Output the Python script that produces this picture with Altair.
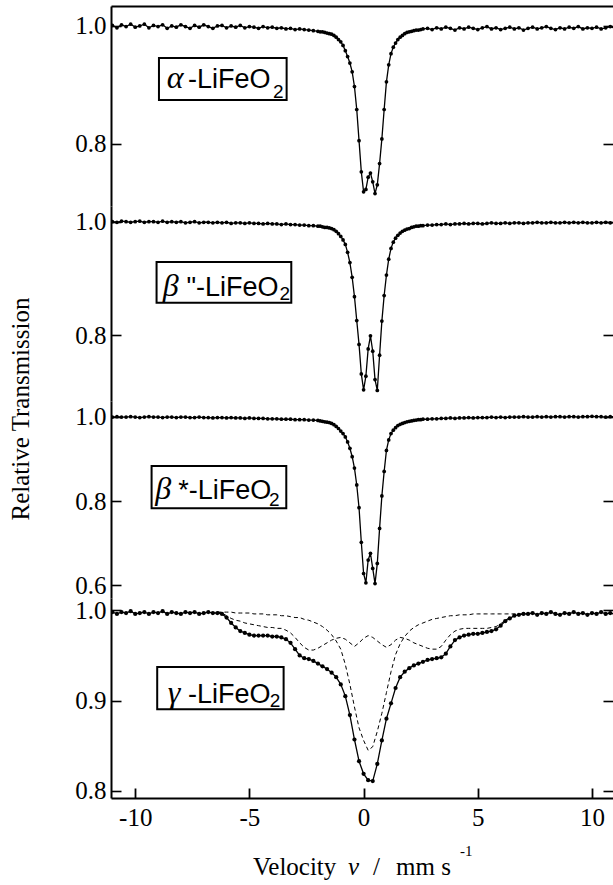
import altair as alt
import numpy as np
import pandas as pd

# ---- velocity channels (mm/s) ----
V_LEFT = np.round(np.arange(-11.0, -2.1, 0.2), 1)     # -11.0 ... -2.2
V_CORE = np.round(np.arange(-2.0, 2.65, 0.1), 1)      # -2.0 ... 2.6
V_RIGHT = np.round(np.arange(2.8, 11.05, 0.2), 1)     # 2.8 ... 11.0
V_GAMMA = np.round(np.arange(-11.0, 11.05, 0.2), 1)   # -11.0 ... 11.0
V_SUB = np.round(np.arange(-6.4, 7.45, 0.2), 1)       # -6.4 ... 7.4

# ---- alpha-LiFeO2 ----
ALPHA_LEFT = [1.001, 0.997, 1.002, 0.999, 1.003, 0.998, 1.000, 1.003, 0.997, 1.001,
              0.999, 1.002, 0.996, 1.000, 0.998, 1.002, 0.999, 0.996, 1.001, 0.998,
              1.002, 0.999, 0.996, 1.000, 1.001, 0.997, 1.000, 0.998, 1.001, 0.997,
              0.999, 0.998, 0.996, 0.999, 0.997, 0.998, 0.996, 0.997, 0.995, 0.996,
              0.994, 0.995, 0.994, 0.993, 0.992]
ALPHA_CORE = [0.991, 0.990, 0.990, 0.989, 0.988, 0.987, 0.986, 0.984, 0.981, 0.977,
              0.973, 0.967, 0.958, 0.948, 0.937, 0.922, 0.897, 0.858, 0.805, 0.752,
              0.718, 0.722, 0.743, 0.750, 0.735, 0.715, 0.730, 0.766, 0.808, 0.858,
              0.905, 0.934, 0.953, 0.964, 0.971, 0.977, 0.981, 0.984, 0.987, 0.989,
              0.990, 0.991, 0.992, 0.993, 0.993, 0.994, 0.995]
ALPHA_RIGHT = [0.996, 0.994, 0.997, 0.995, 0.998, 0.996, 0.993, 0.997, 0.995, 0.998,
               0.996, 0.994, 0.997, 0.999, 0.995, 0.997, 0.994, 0.996, 0.998, 0.995,
               0.997, 0.993, 0.996, 0.998, 0.995, 0.997, 0.999, 0.996, 0.994, 0.997,
               0.995, 0.998, 0.996, 0.999, 0.995, 0.997, 0.996, 0.998, 0.995, 0.997,
               0.999, 0.996]

# ---- beta"-LiFeO2 ----
BETA2_LEFT = [1.000, 0.999, 1.001, 1.000, 0.999, 1.000, 1.001, 0.999, 1.000, 1.000,
              0.999, 1.001, 0.999, 1.000, 0.999, 1.000, 0.998, 0.999, 1.000, 0.998,
              0.999, 0.999, 0.998, 0.999, 0.998, 0.999, 0.997, 0.998, 0.998, 0.997,
              0.998, 0.997, 0.997, 0.996, 0.997, 0.996, 0.996, 0.995, 0.996, 0.995,
              0.995, 0.994, 0.994, 0.993, 0.993]
BETA2_CORE = [0.992, 0.992, 0.991, 0.990, 0.990, 0.989, 0.988, 0.986, 0.983, 0.979,
              0.974, 0.968, 0.960, 0.946, 0.928, 0.902, 0.868, 0.826, 0.784, 0.732,
              0.704, 0.728, 0.776, 0.799, 0.772, 0.722, 0.703, 0.765, 0.825, 0.870,
              0.906, 0.934, 0.953, 0.964, 0.971, 0.976, 0.980, 0.983, 0.985, 0.987,
              0.988, 0.990, 0.991, 0.992, 0.992, 0.993, 0.993]
BETA2_RIGHT = [0.994, 0.994, 0.995, 0.995, 0.996, 0.995, 0.996, 0.996, 0.997, 0.996,
               0.997, 0.997, 0.996, 0.997, 0.998, 0.997, 0.997, 0.998, 0.997, 0.998,
               0.998, 0.997, 0.998, 0.998, 0.999, 0.998, 0.998, 0.999, 0.998, 0.998,
               0.999, 0.998, 0.999, 0.998, 0.999, 0.998, 0.998, 0.999, 0.998, 0.999,
               0.998, 0.998]

# ---- beta*-LiFeO2 ----
BETAS_LEFT = [0.999, 1.000, 0.999, 0.999, 1.000, 0.999, 0.998, 0.999, 1.000, 0.999,
              0.999, 0.998, 0.999, 0.999, 0.998, 0.999, 0.999, 0.998, 0.998, 0.999,
              0.998, 0.998, 0.997, 0.998, 0.998, 0.997, 0.998, 0.997, 0.997, 0.996,
              0.997, 0.996, 0.996, 0.996, 0.995, 0.995, 0.995, 0.994, 0.994, 0.994,
              0.993, 0.993, 0.993, 0.992, 0.992]
BETAS_CORE = [0.991, 0.990, 0.989, 0.988, 0.987, 0.986, 0.984, 0.981, 0.977, 0.972,
              0.966, 0.960, 0.952, 0.940, 0.925, 0.905, 0.878, 0.838, 0.784, 0.702,
              0.628, 0.606, 0.660, 0.676, 0.640, 0.604, 0.652, 0.735, 0.812, 0.870,
              0.920, 0.945, 0.960, 0.968, 0.974, 0.979, 0.982, 0.984, 0.986, 0.988,
              0.989, 0.990, 0.991, 0.992, 0.993, 0.993, 0.994]
BETAS_RIGHT = [0.994, 0.995, 0.995, 0.996, 0.996, 0.997, 0.996, 0.997, 0.997, 0.998,
               0.997, 0.998, 0.998, 0.998, 0.999, 0.998, 0.999, 0.998, 0.999, 0.999,
               0.999, 1.000, 0.999, 0.999, 1.000, 0.999, 1.000, 0.999, 1.000, 1.000,
               0.999, 1.000, 1.000, 0.999, 1.000, 1.000, 1.001, 1.000, 1.000, 0.999,
               1.000, 1.000]

# ---- gamma-LiFeO2: measured spectrum ----
GAMMA_T = [0.998, 0.996, 0.998, 0.997, 0.999, 0.996, 0.997, 0.998, 0.996, 0.998,
           0.997, 0.999, 0.996, 0.998, 0.997, 0.996, 0.998, 0.997, 0.998, 0.996,
           0.997, 0.998, 0.997, 0.997,
           0.996, 0.992, 0.986, 0.981, 0.977, 0.975, 0.973, 0.972, 0.972, 0.972,
           0.972, 0.971, 0.971, 0.970, 0.968, 0.964, 0.957, 0.950, 0.947, 0.946,
           0.944, 0.941, 0.938, 0.935, 0.931, 0.926, 0.918, 0.905, 0.884, 0.857,
           0.833, 0.819, 0.812, 0.811, 0.830, 0.856, 0.880, 0.897, 0.914, 0.926,
           0.932, 0.936, 0.939, 0.941, 0.943, 0.945, 0.946, 0.947, 0.948, 0.952,
           0.960, 0.967, 0.970, 0.972, 0.973, 0.974, 0.974, 0.975, 0.976, 0.977,
           0.979, 0.983, 0.988, 0.991, 0.994, 0.995, 0.996,
           0.996, 0.997, 0.995, 0.997, 0.996, 0.998, 0.996, 0.995, 0.997, 0.996,
           0.998, 0.996, 0.997, 0.995, 0.997, 0.996, 0.998, 0.996, 0.997, 0.996]

# ---- gamma-LiFeO2: fitted sub-spectra (dashed) ----
GAMMA_DOUBLET = [0.998, 0.998, 0.998, 0.998, 0.997, 0.997, 0.997, 0.997, 0.996, 0.996,
                 0.996, 0.995, 0.995, 0.995, 0.994, 0.994, 0.993, 0.992, 0.992, 0.990,
                 0.989, 0.987, 0.985, 0.982, 0.978, 0.973, 0.966, 0.957, 0.940, 0.918,
                 0.893, 0.870, 0.856, 0.845, 0.849, 0.866, 0.886, 0.909, 0.932, 0.951,
                 0.963, 0.971, 0.977, 0.981, 0.984, 0.986, 0.988, 0.990, 0.991, 0.992,
                 0.993, 0.994, 0.994, 0.995, 0.995, 0.995, 0.996, 0.996, 0.996, 0.996,
                 0.996, 0.996, 0.996, 0.996, 0.996, 0.996, 0.996, 0.996, 0.996, 0.996]
GAMMA_SEXTET = [0.998, 0.997, 0.994, 0.991, 0.989, 0.988, 0.986, 0.985, 0.984, 0.983,
                0.982, 0.981, 0.981, 0.980, 0.980, 0.978, 0.975, 0.970, 0.964, 0.959,
                0.956, 0.956, 0.958, 0.961, 0.964, 0.967, 0.969, 0.970, 0.968, 0.964,
                0.960, 0.964, 0.969, 0.972, 0.970, 0.966, 0.962, 0.959, 0.962, 0.967,
                0.970, 0.969, 0.967, 0.964, 0.962, 0.960, 0.958, 0.957, 0.957, 0.960,
                0.967, 0.973, 0.977, 0.979, 0.980, 0.980, 0.980, 0.980, 0.980, 0.980,
                0.981, 0.982, 0.985, 0.989, 0.992, 0.994, 0.995, 0.996, 0.996, 0.996]

# ---- panel layout: y-domains, tick values, heights ----
X_DOMAIN = [-11.06, 10.92]
X_TICKS = [-10, -5, 0, 5, 10]
PANEL_Y_DOMAIN = [(0.6939, 1.0340), (0.68433, 1.02764), (0.56987, 1.03725), (0.79225, 1.01362)]
PANEL_TICKS = [[0.8, 1.0], [0.8, 1.0], [0.6, 0.8, 1.0], [0.8, 0.9, 1.0]]
PANEL_HEIGHTS = [200, 195, 197, 200]
PANEL_W = 502
TITLE_STRIP_H = 86

# ---- sample labels (Greek letter, formula, subscript) with box positions ----
LABEL_GREEK = ["α", "β", "β", "γ"]
LABEL_MAIN = ["-LiFeO", "\"-LiFeO", "*-LiFeO", "-LiFeO"]
LABEL_SUB = ["2", "2", "2", "2"]
BOX_V = [(-8.96, -3.37), (-9.065, -3.166), (-9.283, -3.385), (-9.037, -3.502)]
BOX_T = [(0.8741, 0.9456), (0.8574, 0.9290), (0.7827, 0.8830), (0.8904, 0.9372)]
GREEK_V = [-8.62, -8.79, -9.12, -8.58]
MAIN_V = [-7.685, -7.755, -8.12, -7.685]
SUB_V = [-3.97, -3.68, -4.14, -4.114]
MAIN_T = [0.894, 0.8692, 0.804, 0.8977]
SUB_T = [0.8784, 0.8618, 0.7886, 0.8931]

# ---- x-axis title pieces: text, left edge and baseline inside the title strip ----
XTITLE_TEXT = ["Velocity", "v", "/", "mm s", "-1"]
XTITLE_X = [142, 237, 262, 285, 349]
XTITLE_Y = [77, 77, 77, 77, 58]
XTITLE_STYLE = ["normal", "italic", "normal", "normal", "normal"]
XTITLE_SIZE = [25, 25, 25, 25, 15]

SERIF = "Liberation Serif"
SANS = "Liberation Sans"
FS = 25


def spectrum_df(v, t):
    return pd.DataFrame({"v": v, "t": t})


def x_enc(field, scale, axis):
    return alt.X(field, type="quantitative", scale=scale, axis=axis, title=None)


def y_enc(field, scale, axis=None):
    return alt.Y(field, type="quantitative", scale=scale, axis=axis, title=None)


def left_axis(ticks):
    return alt.Axis(orient="left", values=ticks, format=".1f", ticks=False,
                    grid=True, gridDash=[10, 3000], gridColor="black", gridWidth=1.6,
                    gridOpacity=1, domain=True, domainColor="black", domainWidth=2,
                    labelFont=SERIF, labelFontSize=FS, labelColor="black",
                    labelPadding=5, labelOverlap=False, labelFlush=False, title=None)


def right_axis(ticks):
    return alt.Axis(orient="right", values=ticks, labels=False, ticks=False,
                    grid=True, gridDash=[10, 3000], gridColor="black", gridWidth=1.6,
                    gridOpacity=1, domain=False, title=None)


def x_axis_for(i):
    h = PANEL_HEIGHTS[i]
    if i == 0:
        return alt.Axis(orient="top", labels=False, ticks=False, grid=False,
                        domain=True, domainColor="black", domainWidth=2, title=None)
    if i == 3:
        return alt.Axis(orient="bottom", values=X_TICKS, labelExpr="'' + datum.value",
                        ticks=False, grid=True, gridDash=[10, h - 10], gridDashOffset=10,
                        gridColor="black", gridWidth=1.8, gridOpacity=1,
                        domain=True, domainColor="black", domainWidth=2,
                        labelFont=SERIF, labelFontSize=FS, labelColor="black",
                        labelPadding=7, labelFlush=False, title=None)
    return None


def make_panel(i, spectra, dot_size=14):
    xs = alt.Scale(domain=X_DOMAIN, nice=False, zero=False)
    ys = alt.Scale(domain=list(PANEL_Y_DOMAIN[i]), nice=False, zero=False)
    xa = x_axis_for(i)

    data = alt.Chart(spectra)
    fit = data.mark_line(color="black", strokeWidth=1.3, clip=True).encode(
        x=x_enc("v", xs, xa), y=y_enc("t", ys, left_axis(PANEL_TICKS[i])))
    dots = data.mark_circle(color="black", size=dot_size, opacity=1, clip=True).encode(
        x=x_enc("v", xs, xa), y=y_enc("t", ys, right_axis(PANEL_TICKS[i])))

    box_df = pd.DataFrame({"v1": [BOX_V[i][0]], "v2": [BOX_V[i][1]],
                           "t1": [BOX_T[i][0]], "t2": [BOX_T[i][1]]})
    box = alt.Chart(box_df).mark_rect(fill="white", stroke="black", strokeWidth=2).encode(
        x=x_enc("v1", xs, xa), x2="v2", y=y_enc("t1", ys), y2="t2")

    greek = alt.Chart(pd.DataFrame({"v": [GREEK_V[i]], "t": [MAIN_T[i]], "s": [LABEL_GREEK[i]]})) \
        .mark_text(align="left", baseline="alphabetic", font=SERIF, fontStyle="italic",
                   fontSize=32, color="black") \
        .encode(x=x_enc("v", xs, xa), y=y_enc("t", ys), text="s:N")
    main = alt.Chart(pd.DataFrame({"v": [MAIN_V[i]], "t": [MAIN_T[i]], "s": [LABEL_MAIN[i]]})) \
        .mark_text(align="left", baseline="alphabetic", font=SANS, fontSize=27, color="black") \
        .encode(x=x_enc("v", xs, xa), y=y_enc("t", ys), text="s:N")
    sub = alt.Chart(pd.DataFrame({"v": [SUB_V[i]], "t": [SUB_T[i]], "s": [LABEL_SUB[i]]})) \
        .mark_text(align="left", baseline="alphabetic", font=SANS, fontSize=19, color="black") \
        .encode(x=x_enc("v", xs, xa), y=y_enc("t", ys), text="s:N")

    return [fit, dots, box, greek, main, sub], xs, ys, xa


# alpha, beta", beta* panels
doublet_v = np.concatenate([V_LEFT, V_CORE, V_RIGHT])
l1 = make_panel(0, spectrum_df(doublet_v, ALPHA_LEFT + ALPHA_CORE + ALPHA_RIGHT))[0]
l2 = make_panel(1, spectrum_df(doublet_v, BETA2_LEFT + BETA2_CORE + BETA2_RIGHT))[0]
l3 = make_panel(2, spectrum_df(doublet_v, BETAS_LEFT + BETAS_CORE + BETAS_RIGHT))[0]

# y-axis title, centred on the whole stack
l3.append(
    alt.Chart(pd.DataFrame({"s": ["Relative Transmission"]})).mark_text(
        align="center", baseline="middle", font=SERIF, fontSize=FS, angle=270, color="black"
    ).encode(x=alt.value(-90), y=alt.value(8), text="s:N")
)

# gamma panel with its two sub-spectra
l4, xs4, ys4, xa4 = make_panel(3, spectrum_df(V_GAMMA, GAMMA_T), dot_size=18)
sub_df = pd.DataFrame({
    "v": np.concatenate([V_SUB, V_SUB]),
    "t": GAMMA_DOUBLET + GAMMA_SEXTET,
    "comp": ["doublet"] * len(V_SUB) + ["sextet"] * len(V_SUB),
})
components = alt.Chart(sub_df).mark_line(
    color="black", strokeWidth=1, strokeDash=[4, 3], clip=True
).encode(x=x_enc("v", xs4, xa4), y=y_enc("t", ys4), detail="comp:N")
l4.insert(0, components)

panels = [
    alt.layer(*layers).properties(width=PANEL_W, height=h)
    for layers, h in zip([l1, l2, l3, l4], PANEL_HEIGHTS)
]

# strip below the velocity axis holding its title: Velocity v / mm s^-1
title_pieces = []
for k in range(len(XTITLE_TEXT)):
    title_pieces.append(
        alt.Chart(pd.DataFrame({"s": [XTITLE_TEXT[k]]})).mark_text(
            align="left", baseline="alphabetic", font=SERIF, fontSize=XTITLE_SIZE[k],
            fontStyle=XTITLE_STYLE[k], color="black"
        ).encode(x=alt.value(XTITLE_X[k]), y=alt.value(XTITLE_Y[k]), text="s:N")
    )
panels.append(alt.layer(*title_pieces).properties(width=PANEL_W, height=TITLE_STRIP_H))

chart = alt.vconcat(*panels, spacing=0, bounds="flush").resolve_scale(
    x="independent", y="independent"
).properties(
    padding={"left": 8, "top": 6, "right": 0, "bottom": 0}
).configure_view(stroke=None)

chart.save("out.html", embed_options={"renderer": "svg", "actions": False})
